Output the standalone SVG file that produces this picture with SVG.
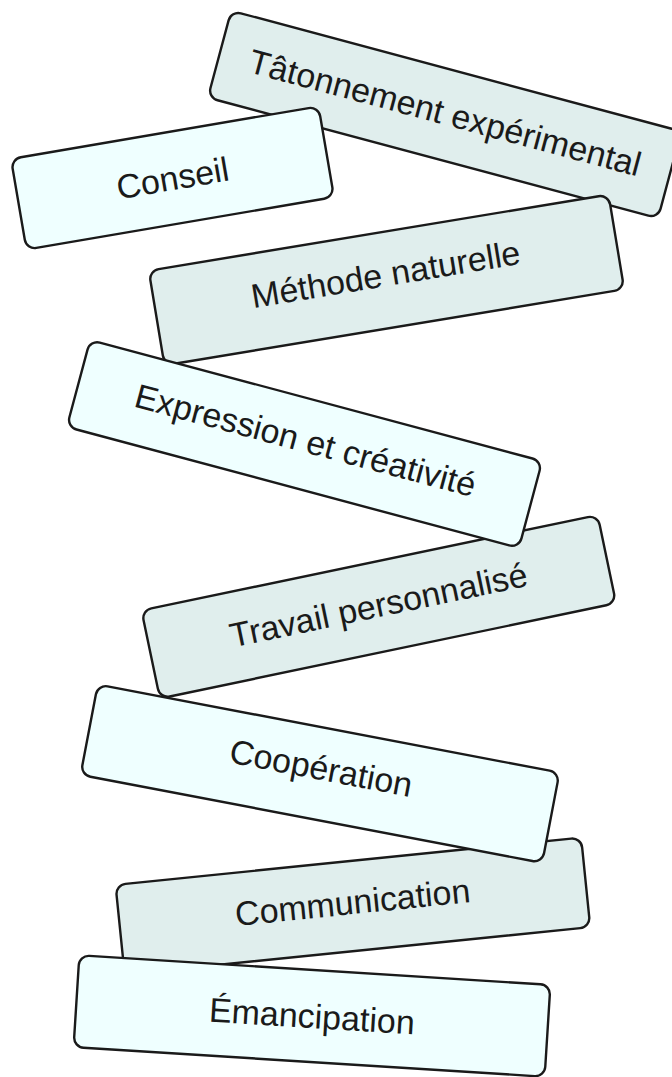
<svg xmlns="http://www.w3.org/2000/svg" width="672" height="1077" viewBox="0 0 672 1077">
<style>
.box rect{stroke:#1a1a1a;stroke-width:2.4}
.g rect{fill:#e0eeed}
.c rect{fill:#efffff}
.box text{font-family:"Liberation Sans",Arial,sans-serif;font-size:34px;fill:#1a1a1a;text-anchor:middle;dominant-baseline:central}
</style>
<rect width="672" height="1077" fill="#ffffff"/>
<g id="tatonnement" class="box g" transform="translate(444.6,114.5) rotate(15)">
<rect x="-233" y="-45" width="466" height="90" rx="10"/>
<text x="0" y="-2">Tâtonnement expérimental</text>
</g>
<g id="methode" class="box g" transform="translate(386.5,280) rotate(-9.4)">
<rect x="-233" y="-48" width="466" height="96" rx="10"/>
<text x="0" y="-6">Méthode naturelle</text>
</g>
<g id="travail" class="box g" transform="translate(378.8,606.8) rotate(-11.8)">
<rect x="-233" y="-45" width="466" height="90" rx="10"/>
<text x="0" y="-2">Travail personnalisé</text>
</g>
<g id="communication" class="box g" transform="translate(352.9,906) rotate(-5.8)">
<rect x="-234" y="-45" width="468" height="90" rx="10"/>
<text x="0" y="-4">Communication</text>
</g>
<g id="conseil" class="box c" transform="translate(172.5,178) rotate(-9.7)">
<rect x="-156" y="-46" width="312" height="92" rx="10"/>
<text x="0" y="0">Conseil</text>
</g>
<g id="expression" class="box c" transform="translate(304.5,444) rotate(15)">
<rect x="-234" y="-45" width="468" height="90" rx="10"/>
<text x="0" y="-4">Expression et créativité</text>
</g>
<g id="cooperation" class="box c" transform="translate(320,773.7) rotate(10.8)">
<rect x="-235" y="-46" width="470" height="92" rx="10"/>
<text x="0" y="-6">Coopération</text>
</g>
<g id="emancipation" class="box c" transform="translate(312,1016) rotate(3.6)">
<rect x="-236" y="-46" width="472" height="92" rx="10"/>
<text x="0" y="0">Émancipation</text>
</g>
</svg>
